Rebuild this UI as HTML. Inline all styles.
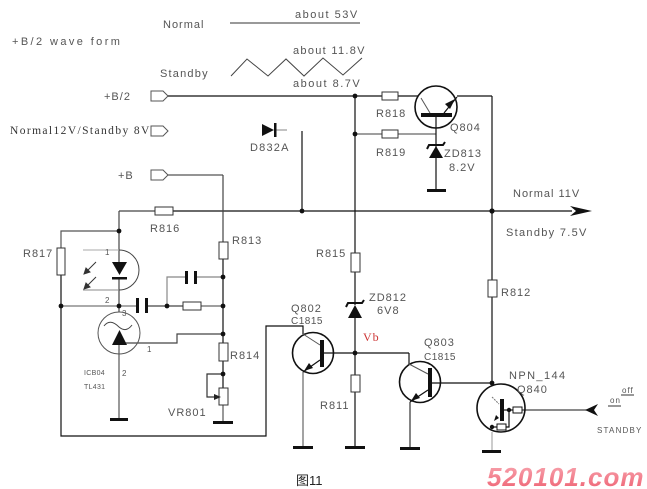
<!DOCTYPE html>
<html><head><meta charset="utf-8"><style>
html,body{margin:0;padding:0;background:#fff;}
svg{display:block;}
text{font-family:"Liberation Sans","Noto Sans CJK SC",sans-serif;font-size:11px;fill:#555;letter-spacing:1px;}
</style></head><body>
<svg width="647" height="489" viewBox="0 0 647 489" xmlns="http://www.w3.org/2000/svg">
<defs>
<linearGradient id="wm" x1="0" y1="0" x2="0" y2="1">
<stop offset="0" stop-color="#f8a9b3"/><stop offset="1" stop-color="#ee5f70"/>
</linearGradient>
</defs>
<rect width="647" height="489" fill="#fff"/>

<!-- waveform section -->
<text x="163" y="28">Normal</text>
<line x1="230" y1="23" x2="360" y2="23" stroke="#333" stroke-width="1"/>
<text x="295" y="18" style="letter-spacing:1.5px">about 53V</text>
<text x="12" y="45" style="letter-spacing:2.4px">+B/2 wave form</text>
<text x="293" y="54" style="letter-spacing:1.3px">about 11.8V</text>
<text x="160" y="77" style="letter-spacing:1.2px">Standby</text>
<polyline points="231,76 247,59 268,76 286,59 304,76 323,58 343,75 362,58" fill="none" stroke="#444" stroke-width="1"/>
<text x="293" y="87" style="letter-spacing:1.5px">about 8.7V</text>

<!-- connectors -->
<text x="104" y="100">+B/2</text>
<text x="10" y="134" style="font-family:'Liberation Serif',serif;fill:#333;font-size:11.5px;letter-spacing:1.4px">Normal12V/Standby 8V</text>
<text x="118" y="179">+B</text>
<g fill="#fff" stroke="#555" stroke-width="1">
<path d="M151,91 L163,91 L168,96 L163,101 L151,101 Z"/>
<path d="M151,126 L163,126 L168,131 L163,136 L151,136 Z"/>
<path d="M151,170 L163,170 L168,175 L163,180 L151,180 Z"/>
</g>

<g stroke="#111" stroke-width="1.2" fill="none">
<line x1="168" y1="96" x2="382" y2="96"/>
<line x1="398" y1="96" x2="418" y2="96"/>
<line x1="457" y1="96" x2="492" y2="96"/>
<line x1="492" y1="96" x2="492" y2="280"/>
<line x1="492" y1="297" x2="492" y2="383"/>
<line x1="355" y1="96" x2="355" y2="253"/>
<line x1="355" y1="272" x2="355" y2="305"/>
<line x1="355" y1="318" x2="355" y2="375"/>
<line x1="355" y1="392" x2="355" y2="447"/>
<line x1="355" y1="134" x2="382" y2="134" stroke="#666"/>
<line x1="398" y1="134" x2="436" y2="134" stroke="#666"/>
<line x1="436" y1="117" x2="436" y2="191"/>
<line x1="302" y1="131" x2="302" y2="211"/>
<line x1="275" y1="130" x2="287" y2="130" stroke="#999"/>
<line x1="119" y1="211" x2="155" y2="211" stroke="#444"/>
<line x1="173" y1="211" x2="572" y2="211"/>
<line x1="168" y1="175" x2="223" y2="175" stroke="#555"/>
<line x1="223" y1="175" x2="223" y2="242" stroke="#444"/>
<line x1="223" y1="259" x2="223" y2="343"/>
<line x1="223" y1="361" x2="223" y2="388"/>
<line x1="223" y1="405" x2="223" y2="422" stroke="#555"/>
<line x1="119" y1="211" x2="119" y2="262" stroke="#444"/>
<polyline points="119,231 61,231 61,248" stroke="#555"/>
<polyline points="61,275 61,436 266,436 266,326 303,326 303,334"/>
<line x1="119" y1="278" x2="119" y2="312" stroke="#444"/>
<line x1="61" y1="306" x2="137" y2="306" stroke="#777"/>
<line x1="146" y1="306" x2="183" y2="306" stroke="#444"/>
<line x1="201" y1="306" x2="223" y2="306" stroke="#666"/>
<polyline points="167,306 167,277 186,277" stroke="#888"/>
<line x1="196" y1="277" x2="223" y2="277" stroke="#888"/>
<line x1="119" y1="345" x2="119" y2="419" stroke="#555"/>
<polyline points="119,343 177,343 177,334 223,334" stroke="#444"/>
<polyline points="223,374 207,374 207,397 215,397" stroke="#333"/>
<line x1="324" y1="353" x2="409" y2="353"/>
<line x1="409" y1="353" x2="409" y2="364"/>
<line x1="303" y1="372" x2="303" y2="447" stroke="#666"/>
<line x1="410" y1="402" x2="410" y2="448" stroke="#333"/>
<line x1="431" y1="383" x2="492" y2="383"/>
<line x1="522" y1="410" x2="588" y2="410" stroke="#444"/>
<line x1="492" y1="432" x2="492" y2="450" stroke="#aaa"/>
</g>

<g fill="#fff" stroke="#333" stroke-width="1">
<rect x="382" y="92" width="16" height="8"/>
<rect x="382" y="130" width="16" height="8"/>
<rect x="155" y="207" width="18" height="8"/>
<rect x="57" y="248" width="8" height="27"/>
<rect x="219" y="242" width="9" height="17"/>
<rect x="183" y="302" width="18" height="8"/>
<rect x="219" y="343" width="9" height="18"/>
<rect x="219" y="388" width="9" height="17"/>
<rect x="351" y="253" width="9" height="19"/>
<rect x="351" y="375" width="9" height="17"/>
<rect x="488" y="280" width="9" height="17"/>
</g>
<polygon points="221,397 214,394 214,400" fill="#222"/>

<g fill="#111">
<rect x="136" y="298" width="3" height="15"/>
<rect x="145" y="298" width="3" height="15"/>
<rect x="185" y="271" width="3" height="13"/>
<rect x="194" y="271" width="3" height="13"/>
</g>

<polygon points="262,124 262,136 274,130" fill="#111"/>
<rect x="274" y="123" width="2.5" height="14" fill="#111"/>
<text x="250" y="151" style="letter-spacing:1.2px">D832A</text>

<circle cx="436" cy="107" r="21" fill="none" stroke="#111" stroke-width="1.6"/>
<rect x="421" y="113" width="31" height="4" fill="#111"/>
<line x1="421" y1="98" x2="430" y2="113" stroke="#555" stroke-width="1"/>
<line x1="444" y1="113" x2="457" y2="97" stroke="#111" stroke-width="1.2"/>
<polygon points="455,99 445,104 450,109" fill="#111"/>
<polygon points="429,158 443,158 436,146" fill="#111"/>
<polyline points="427,149 429,145 443,145 445,142" fill="none" stroke="#111" stroke-width="2"/>
<rect x="427" y="189" width="19" height="3" fill="#111"/>

<polygon points="592,211 570,206 576,211 570,216" fill="#111"/>

<polygon points="112,262 127,262 119.5,275" fill="#111"/>
<rect x="112" y="277" width="15" height="2.5" fill="#111"/>
<path d="M119,250 A20,20 0 0 1 119,290" fill="none" stroke="#444" stroke-width="1"/>
<line x1="83" y1="250" x2="119" y2="250" stroke="#aaa" stroke-width="1"/>
<line x1="83" y1="290" x2="119" y2="290" stroke="#888" stroke-width="1"/>
<g stroke="#333" stroke-width="1" fill="#333">
<line x1="96" y1="262" x2="86" y2="272"/>
<polygon points="84,274 86,268 90,272"/>
<line x1="96" y1="277" x2="86" y2="287"/>
<polygon points="84,289 86,283 90,287"/>
</g>
<circle cx="119" cy="333" r="21" fill="none" stroke="#555" stroke-width="1"/>
<polygon points="112,345 127,345 119.5,330" fill="#111"/>
<path d="M104,326 Q110,318 119,327 Q126,333 132,325" fill="none" stroke="#444" stroke-width="1"/>

<circle cx="313" cy="353" r="20.5" fill="none" stroke="#111" stroke-width="1.6"/>
<rect x="320" y="340" width="4" height="27" fill="#111"/>
<line x1="303" y1="334" x2="320" y2="345" stroke="#555" stroke-width="1"/>
<line x1="320" y1="360" x2="303" y2="372" stroke="#111" stroke-width="1.2"/>
<polygon points="304,371 309,363 313,368" fill="#111"/>
<rect x="293" y="446" width="20" height="3" fill="#111"/>
<circle cx="420" cy="382" r="20.5" fill="none" stroke="#111" stroke-width="1.6"/>
<rect x="428" y="368" width="4" height="29" fill="#111"/>
<line x1="409" y1="364" x2="428" y2="374" stroke="#555" stroke-width="1"/>
<line x1="428" y1="390" x2="410" y2="402" stroke="#111" stroke-width="1.2"/>
<polygon points="411,401 416,393 420,398" fill="#111"/>
<rect x="400" y="447" width="20" height="3" fill="#111"/>
<polygon points="348,318 362,318 355,305" fill="#111"/>
<polyline points="346,307 348,303 362,303 364,300" fill="none" stroke="#111" stroke-width="2"/>
<rect x="345" y="446" width="20" height="3" fill="#111"/>
<rect x="110" y="418" width="18" height="3" fill="#111"/>
<rect x="213" y="421" width="20" height="3" fill="#111"/>

<circle cx="501" cy="408" r="24" fill="none" stroke="#111" stroke-width="1.6"/>
<rect x="500" y="399" width="4" height="22" fill="#111"/>
<line x1="492" y1="397" x2="499" y2="404" stroke="#777" stroke-width="1" stroke-dasharray="2,1"/>
<line x1="504" y1="410" x2="513" y2="410" stroke="#111" stroke-width="1.2"/>
<rect x="513" y="407" width="9" height="6" fill="#fff" stroke="#111" stroke-width="1"/>
<polyline points="492,427 497,427" stroke="#111" stroke-width="1.2" fill="none"/>
<rect x="497" y="424" width="9" height="6" fill="#fff" stroke="#111" stroke-width="1"/>
<polyline points="506,427 509,427 509,410" stroke="#111" stroke-width="1.2" fill="none"/>
<polygon points="494,421 496,415 499,418" fill="#111"/>
<rect x="482" y="450" width="19" height="3" fill="#111"/>
<polygon points="585,410 598,404 594,410 598,416" fill="#111"/>

<g fill="#111">
<circle cx="355" cy="96" r="2.4"/><circle cx="355" cy="134" r="2.4"/>
<circle cx="302" cy="211" r="2.4"/><circle cx="492" cy="211" r="2.6"/>
<circle cx="119" cy="231" r="2.4"/><circle cx="61" cy="306" r="2.4"/>
<circle cx="119" cy="306" r="2.4"/><circle cx="167" cy="306" r="2.4"/>
<circle cx="223" cy="306" r="2.4"/><circle cx="223" cy="277" r="2.4"/>
<circle cx="223" cy="334" r="2.4"/><circle cx="223" cy="374" r="2.4"/>
<circle cx="355" cy="353" r="2.4"/><circle cx="492" cy="383" r="2.4"/>
<circle cx="509" cy="410" r="2.2"/><circle cx="492" cy="427" r="2.2"/>
</g>

<text x="376" y="117">R818</text>
<text x="376" y="156">R819</text>
<text x="450" y="131">Q804</text>
<text x="444" y="157">ZD813</text>
<text x="449" y="171">8.2V</text>
<text x="513" y="197">Normal 11V</text>
<text x="506" y="236" style="letter-spacing:1.3px">Standby 7.5V</text>
<text x="150" y="232">R816</text>
<text x="23" y="257">R817</text>
<text x="232" y="244">R813</text>
<text x="316" y="257">R815</text>
<text x="369" y="301">ZD812</text>
<text x="377" y="314">6V8</text>
<text x="363" y="341" style="fill:#c33;font-family:'Liberation Serif',serif;font-size:12px">Vb</text>
<text x="291" y="312">Q802</text>
<text x="291" y="324" style="font-size:10px;letter-spacing:0.5px">C1815</text>
<text x="424" y="346">Q803</text>
<text x="424" y="360" style="font-size:10px;letter-spacing:0.5px">C1815</text>
<text x="501" y="296">R812</text>
<text x="509" y="379" style="letter-spacing:1.4px">NPN_144</text>
<text x="517" y="393">Q840</text>
<text x="320" y="409">R811</text>
<text x="230" y="359">R814</text>
<text x="168" y="416">VR801</text>
<text x="84" y="375" style="font-size:7px;letter-spacing:0.3px">ICB04</text>
<text x="84" y="389" style="font-size:7px;letter-spacing:0.3px">TL431</text>
<text x="105" y="255" style="font-size:8px">1</text>
<text x="105" y="303" style="font-size:8px">2</text>
<text x="122" y="316" style="font-size:8px">3</text>
<text x="147" y="352" style="font-size:8px">1</text>
<text x="122" y="376" style="font-size:8px">2</text>
<text x="622" y="393" style="font-size:8px">off</text>
<line x1="621" y1="395" x2="634" y2="395" stroke="#333" stroke-width="1"/>
<text x="610" y="403" style="font-size:8px">on</text>
<line x1="608" y1="406" x2="621" y2="406" stroke="#333" stroke-width="1"/>
<text x="597" y="433" style="font-size:8px;letter-spacing:1.2px">STANDBY</text>

<text x="296" y="485" style="font-size:13px;fill:#222;letter-spacing:0">图11</text>

<text x="487" y="486" style="font-family:'Liberation Sans',sans-serif;font-weight:bold;font-style:italic;font-size:26px;fill:url(#wm);letter-spacing:1px">520101.com</text>
</svg>
</body></html>
